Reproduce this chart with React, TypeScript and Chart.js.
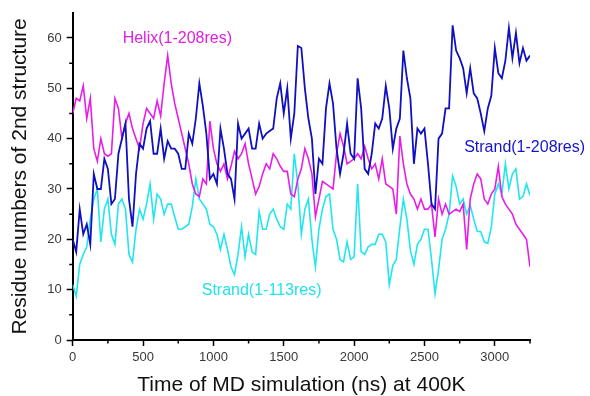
import React, { useEffect, useRef } from "react";
import { Chart, registerables } from "chart.js";

Chart.register(...registerables);

const times = [
  0, 25, 50, 75, 100, 125, 150, 175, 200, 225,
  250, 275, 300, 325, 350, 375, 400, 425, 450, 475,
  500, 525, 550, 575, 600, 625, 650, 675, 700, 725,
  750, 775, 800, 825, 850, 875, 900, 925, 950, 975,
  1000, 1025, 1050, 1075, 1100, 1125, 1150, 1175, 1200, 1225,
  1250, 1275, 1300, 1325, 1350, 1375, 1400, 1425, 1450, 1475,
  1500, 1525, 1550, 1575, 1600, 1625, 1650, 1675, 1700, 1725,
  1750, 1775, 1800, 1825, 1850, 1875, 1900, 1925, 1950, 1975,
  2000, 2025, 2050, 2075, 2100, 2125, 2150, 2175, 2200, 2225,
  2250, 2275, 2300, 2325, 2350, 2375, 2400, 2425, 2450, 2475,
  2500, 2525, 2550, 2575, 2600, 2625, 2650, 2675, 2700, 2725,
  2750, 2775, 2800, 2825, 2850, 2875, 2900, 2925, 2950, 2975,
  3000, 3025, 3050, 3075, 3100, 3125, 3150, 3175, 3200, 3225,
  3250,
];

const helix208 = [
  45, 48, 47.5, 50.5, 44, 48, 38, 35.5, 40, 37,
  36.5, 37, 48, 46, 40, 43, 45, 42, 40, 38,
  43, 46, 45, 44, 47.5, 44.5, 51, 56.5, 51, 47,
  44, 41, 38, 35, 31, 29, 28.5, 32, 31, 43.5,
  38, 35, 33.5, 35, 32, 34.5, 37.5, 36, 37, 39,
  35, 32, 29, 30.5, 33, 35, 34, 37, 36, 34.5,
  33.5, 33.5, 29, 28.5, 32, 34, 38, 36, 33, 24.5,
  28, 31.5, 31, 30.5, 30, 37, 41, 38.5, 35, 35.5,
  36, 37, 36, 38.5, 36, 34, 35, 32, 36, 31,
  30.5, 30, 25, 40.5, 35, 31, 29, 28, 26, 28,
  26, 26, 27, 20.5, 28, 25, 27, 25, 25.5, 26,
  25.5, 27, 18, 28, 31, 33, 32, 28, 27, 29,
  30, 34.5, 28.5, 27, 26, 25, 23, 22, 21, 20,
  14.5,
];

const strand208 = [
  20, 17.5, 26, 21, 23, 19, 33, 30, 30, 36,
  34, 27, 28, 37, 40, 43, 28, 22.5, 33, 39,
  38, 42, 43.5, 37, 37, 42, 36, 39.5, 38, 38,
  37, 34, 34, 41, 39, 44, 51, 46.5, 41, 32,
  33, 31, 42, 38, 33, 32, 28, 43, 40, 41,
  42, 38, 38, 43, 40, 41, 41.5, 42, 48, 51,
  45, 50, 40, 45, 58.4, 58, 50, 44, 40, 29,
  36, 35, 46, 51, 47, 38, 33, 37, 43, 37,
  36, 52, 46, 34, 33, 37, 43, 42, 44, 50.5,
  46, 38, 42, 44, 57.5, 52, 48, 35, 42, 41,
  42, 35, 27, 26, 40, 41, 46, 46, 62.5, 57.5,
  56, 54, 49, 54, 49, 48, 45, 41.5, 46, 48.5,
  58, 53, 52, 55.5, 62, 56, 61, 55, 58, 55.5,
  56.5,
];

const strand113 = [
  11, 8.7, 15, 17, 18.5, 24, 28, 30, 19.5, 26,
  28, 21, 19, 27, 28, 26, 17, 15.5, 22, 26,
  24, 27, 31, 24, 29, 28, 25, 27, 27, 24.5,
  22, 22, 22.5, 23, 26.5, 32, 28, 27, 26, 23,
  22.5, 21, 18, 21, 18, 14.5, 13, 17, 22.5, 16.5,
  21, 17.5, 17, 25.5, 22, 22, 25, 26, 24, 22.5,
  22, 27, 26, 37, 31, 21, 26, 28, 20, 14.5,
  22, 26, 28.5, 29, 22, 20, 16, 15.5, 19.5, 16,
  16.5, 31, 17.5, 17, 18.5, 19, 19, 21, 21, 19.5,
  11, 14.8, 16, 22.4, 28, 24, 17.8, 15, 19, 20,
  22, 22, 16, 9.2, 14, 20, 22, 25, 32.6, 30.5,
  27, 28, 25, 26.8, 24, 21.6, 21.5, 19.5, 19.2, 22.4,
  29, 31, 29, 35, 30, 33, 34, 28, 28.5, 31,
  28.7,
];

const xMajorTicks = [0, 500, 1000, 1500, 2000, 2500, 3000];
const xMinorTicks = [250, 750, 1250, 1750, 2250, 2750, 3250];
const yMajorTicks = [0, 10, 20, 30, 40, 50, 60];
const yMinorTicks = [5, 15, 25, 35, 45, 55];

const seriesLabels = ["Strand(1-208res)", "Helix(1-208res)", "Strand(1-113res)"];
// annotation anchors in data coordinates [time, residues]
const annotationTexts = [
  { text: "Helix(1-208res)", t: 355, v: 59.8, color: "#e020e0" },
  { text: "Strand(1-208res)", t: 2782, v: 38.3, color: "#1414c8" },
  { text: "Strand(1-113res)", t: 917, v: 9.8, color: "#22e2ea" },
];

const COLORS = { blue: "#1010c0", magenta: "#e61ee6", cyan: "#22e6ee" };
const FONT = "'Liberation Sans', Arial, sans-serif";

const toPoints = (vals: number[]) => vals.map((v, i) => ({ x: times[i], y: v }));

const extrasPlugin = {
  id: "extras",
  afterDraw(chart: any) {
    const { ctx, scales } = chart;
    const xs = scales.x;
    const ys = scales.y;
    const area = chart.chartArea;
    ctx.save();
    ctx.strokeStyle = "#000";
    ctx.lineWidth = 1.5;
    ctx.beginPath();
    xMinorTicks.forEach((t) => {
      const px = xs.getPixelForValue(t);
      ctx.moveTo(px, area.bottom);
      ctx.lineTo(px, area.bottom + 3.5);
    });
    yMinorTicks.forEach((v) => {
      const py = ys.getPixelForValue(v);
      ctx.moveTo(area.left, py);
      ctx.lineTo(area.left - 3.5, py);
    });
    ctx.stroke();
    ctx.font = `16px ${FONT}`;
    ctx.textBaseline = "middle";
    ctx.textAlign = "left";
    annotationTexts.forEach((a) => {
      ctx.fillStyle = a.color;
      ctx.fillText(a.text, xs.getPixelForValue(a.t), ys.getPixelForValue(a.v));
    });
    ctx.restore();
  },
};

export default function App() {
  const ref = useRef<HTMLCanvasElement | null>(null);
  useEffect(() => {
    document.body.style.margin = "0";
    if (!ref.current) return;
    const chart = new Chart(ref.current, {
      type: "line",
      data: {
        datasets: [
          {
            label: seriesLabels[0],
            data: toPoints(strand208),
            borderColor: COLORS.blue,
            borderWidth: 1.8,
            pointRadius: 0,
            tension: 0,
          },
          {
            label: seriesLabels[1],
            data: toPoints(helix208),
            borderColor: COLORS.magenta,
            borderWidth: 1.6,
            pointRadius: 0,
            tension: 0,
          },
          {
            label: seriesLabels[2],
            data: toPoints(strand113),
            borderColor: COLORS.cyan,
            borderWidth: 1.6,
            pointRadius: 0,
            tension: 0,
          },
        ],
      },
      options: {
        animation: false,
        responsive: false,
        layout: { padding: { left: 0, right: 60, top: 0, bottom: 0 } },
        plugins: { legend: { display: false }, tooltip: { enabled: false } },
        scales: {
          x: {
            type: "linear",
            min: 0,
            max: 3250,
            afterBuildTicks: (s: any) => {
              s.ticks = xMajorTicks.map((v) => ({ value: v }));
            },
            afterFit: (s: any) => {
              s.height = 56;
            },
            border: { display: true, color: "#000", width: 2 },
            grid: {
              display: true,
              drawOnChartArea: false,
              drawTicks: true,
              tickLength: 6,
              tickColor: "#000",
              tickWidth: 1.5,
              color: "#000",
            },
            ticks: {
              autoSkip: false,
              maxRotation: 0,
              padding: 4,
              color: "#3a3a3a",
              font: { family: FONT, size: 13 },
              callback: (v: any) => String(v),
            },
            title: {
              display: true,
              text: "Time of MD simulation (ns) at 400K",
              color: "#111",
              font: { family: FONT, size: 21, lineHeight: 1 },
              padding: { top: 0, bottom: 0 },
            },
          },
          y: {
            type: "linear",
            min: 0,
            max: 65,
            afterBuildTicks: (s: any) => {
              s.ticks = yMajorTicks.map((v) => ({ value: v }));
            },
            afterFit: (s: any) => {
              s.width = 72.7;
            },
            border: { display: true, color: "#000", width: 2 },
            grid: {
              display: true,
              drawOnChartArea: false,
              drawTicks: true,
              tickLength: 6,
              tickColor: "#000",
              tickWidth: 1.5,
              color: "#000",
            },
            ticks: {
              padding: 5,
              color: "#3a3a3a",
              font: { family: FONT, size: 13 },
              callback: (v: any) => String(v),
            },
            title: {
              display: true,
              text: "Residue numbers of 2nd structure",
              color: "#111",
              font: { family: FONT, size: 21, lineHeight: 1 },
              padding: { top: 9.5, bottom: 0 },
            },
          },
        },
      },
      plugins: [extrasPlugin],
    });
    return () => chart.destroy();
  }, []);
  return (
    <div style={{ position: "absolute", left: 0, top: 0, width: 590, height: 396, background: "#fff" }}>
      <canvas ref={ref} width={590} height={396} style={{ width: 590, height: 396 }} />
    </div>
  );
}
